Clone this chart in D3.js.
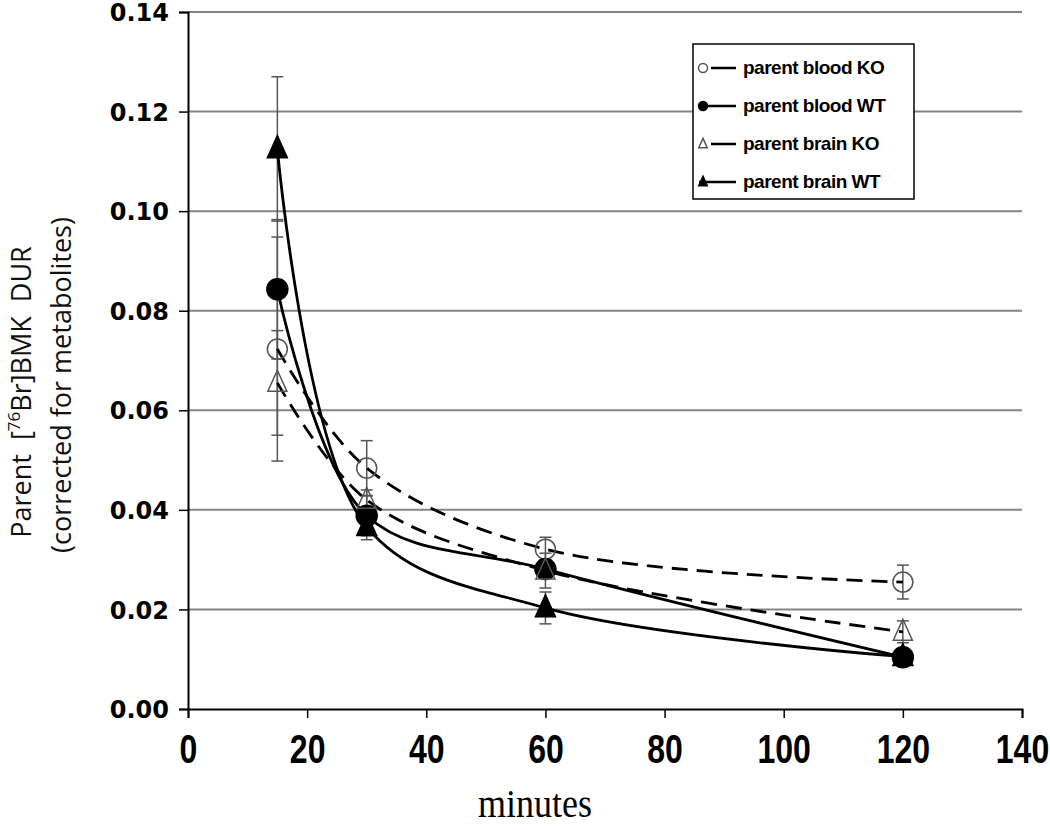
<!DOCTYPE html>
<html><head><meta charset="utf-8">
<script src="https://cdn.jsdelivr.net/npm/d3@7"></script>
<style>body{margin:0;background:#fff}svg{display:block}text{white-space:pre}</style>
</head><body>
<svg id="c" width="1050" height="830"></svg>
<script>
const minutes = [15, 30, 60, 120];
const bloodKO = [0.0723, 0.0484, 0.0321, 0.0255];
const bloodKOErr = [0.0225, 0.0055, 0.0024, 0.0034];
const bloodWT = [0.0843, 0.0388, 0.0281, 0.0104];
const bloodWTErr = [0.014, 0.0040, 0.0018, 0.0010];
const brainKO = [0.0655, 0.0420, 0.0278, 0.0155];
const brainKOErr = [0.0105, 0.0020, 0.0035, 0.0022];
const brainWT = [0.1125, 0.0366, 0.0203, 0.0105];
const brainWTErr = [0.0145, 0.0026, 0.0032, 0.0010];
const xTicks = [0, 20, 40, 60, 80, 100, 120, 140];
const yTicks = [0, 0.02, 0.04, 0.06, 0.08, 0.10, 0.12, 0.14];
const seriesNames = ["parent blood KO", "parent blood WT", "parent brain KO", "parent brain WT"];

const series = [
  {name: seriesNames[0], v: bloodKO, e: bloodKOErr, dash: "16,9", marker: "circle", fill: "#fff"},
  {name: seriesNames[1], v: bloodWT, e: bloodWTErr, dash: null, marker: "circle", fill: "#000"},
  {name: seriesNames[2], v: brainKO, e: brainKOErr, dash: "16,9", marker: "triangle", fill: "#fff"},
  {name: seriesNames[3], v: brainWT, e: brainWTErr, dash: null, marker: "triangle", fill: "#000"}
];

const svg = d3.select("#c");
const L = 188, T = 12, R = 1022, B = 709;
const x = d3.scaleLinear().domain([0, 140]).range([L, R]);
const y = d3.scaleLinear().domain([0, 0.14]).range([B, T]);

// gridlines
svg.append("g").selectAll("line").data(yTicks.filter(d => d > 0)).join("line")
  .attr("x1", L).attr("x2", R).attr("y1", d => y(d)).attr("y2", d => y(d))
  .attr("stroke", "#858585").attr("stroke-width", 2);

// axes
const yAxis = svg.append("g").attr("transform", `translate(${L},0)`)
  .call(d3.axisLeft(y).tickValues(yTicks).tickFormat(d3.format(".2f")).tickSize(9).tickPadding(10));
yAxis.select(".domain").attr("stroke-width", 2);
yAxis.selectAll(".tick line").attr("stroke-width", 1.5);
yAxis.selectAll("text").attr("font-family", "DejaVu Sans, Liberation Sans, sans-serif")
  .attr("font-weight", "bold").attr("font-size", 24).attr("dy", "0.36em").attr("fill", "#000");

const xAxis = svg.append("g").attr("transform", `translate(0,${B})`)
  .call(d3.axisBottom(x).tickValues(xTicks).tickSize(9).tickPadding(14));
xAxis.select(".domain").attr("stroke-width", 2);
xAxis.selectAll(".tick line").attr("stroke-width", 1.5);
xAxis.selectAll(".tick text").attr("dy", null).attr("y", 0)
  .attr("transform", "translate(0,54) scale(0.8,1)")
  .attr("font-family", "Liberation Sans Narrow, Liberation Sans, Arial, sans-serif")
  .attr("font-weight", "bold").attr("font-size", 40).attr("fill", "#000");

// axis titles
svg.append("text").attr("transform", "translate(535,817) scale(0.9,1)").attr("text-anchor", "middle")
  .attr("font-family", "Liberation Serif, Times New Roman, serif").attr("font-size", 40)
  .text("minutes");

const yt = svg.append("text").attr("transform", "translate(31,392) rotate(-90)")
  .attr("text-anchor", "middle").attr("font-family", "Open Sans, Noto Sans, sans-serif")
  .attr("font-size", 27).attr("fill", "#111");
yt.append("tspan").text("Parent  [");
yt.append("tspan").attr("baseline-shift", "super").attr("font-size", 17).text("76");
yt.append("tspan").text("Br]BMK  DUR");
svg.append("text").attr("transform", "translate(71,385) rotate(-90)")
  .attr("text-anchor", "middle").attr("font-family", "Open Sans, Noto Sans, sans-serif")
  .attr("font-size", 27).attr("fill", "#111").text("(corrected for metabolites)");

// error bars
series.forEach(s => {
  const g = svg.append("g").attr("stroke", "#555").attr("stroke-width", 1.5);
  minutes.forEach((m, i) => {
    const cx = x(m), hi = y(s.v[i] + s.e[i]), lo = y(s.v[i] - s.e[i]);
    g.append("line").attr("x1", cx).attr("x2", cx).attr("y1", hi).attr("y2", lo);
    g.append("line").attr("x1", cx - 6).attr("x2", cx + 6).attr("y1", hi).attr("y2", hi);
    g.append("line").attr("x1", cx - 6).attr("x2", cx + 6).attr("y1", lo).attr("y2", lo);
  });
});

// lines
const line = d3.line().x((d, i) => x(minutes[i])).y(d => y(d)).curve(d3.curveCatmullRom.alpha(0.5));
series.forEach(s => {
  svg.append("path").attr("d", line(s.v)).attr("fill", "none").attr("stroke", "#000")
    .attr("stroke-width", 2.8).attr("stroke-dasharray", s.dash);
});

// markers
function drawMarker(g, s, cx, cy, size) {
  const open = s.fill === "#fff";
  if (s.marker === "circle") {
    g.append("circle").attr("cx", cx).attr("cy", cy).attr("r", size)
      .attr("fill", open ? "none" : "#000").attr("stroke", open ? "#555" : "#000").attr("stroke-width", 1.5);
  } else {
    const h = size * 2.1, w = size * 1.9;
    g.append("path").attr("d", `M${cx},${cy - h * 0.6}L${cx + w / 2},${cy + h * 0.4}L${cx - w / 2},${cy + h * 0.4}Z`)
      .attr("fill", open ? "none" : "#000").attr("stroke", open ? "#555" : "#000").attr("stroke-width", 1.5);
  }
}
series.forEach(s => {
  const g = svg.append("g");
  minutes.forEach((m, i) => drawMarker(g, s, x(m), y(s.v[i]), s.fill === "#000" ? 10.5 : 10));
});

// legend
const lg = svg.append("g");
lg.append("rect").attr("x", 693).attr("y", 44).attr("width", 221).attr("height", 155)
  .attr("fill", "#fff").attr("stroke", "#000").attr("stroke-width", 1.5);
series.forEach((s, i) => {
  const yy = 68 + i * 38;
  lg.append("line").attr("x1", 699).attr("x2", 736).attr("y1", yy).attr("y2", yy)
    .attr("stroke", "#000").attr("stroke-width", 2.5).attr("stroke-dasharray", s.dash ? "0,12,24" : null);
  drawMarker(lg, s, 703, yy, 4.5);
  lg.append("text").attr("x", 743).attr("y", yy + 6).attr("font-family", "Liberation Sans Narrow, Liberation Sans, Arial, sans-serif")
    .attr("font-weight", "bold").attr("font-size", 19).attr("letter-spacing", -0.5).text(s.name);
});
</script>
</body></html>
